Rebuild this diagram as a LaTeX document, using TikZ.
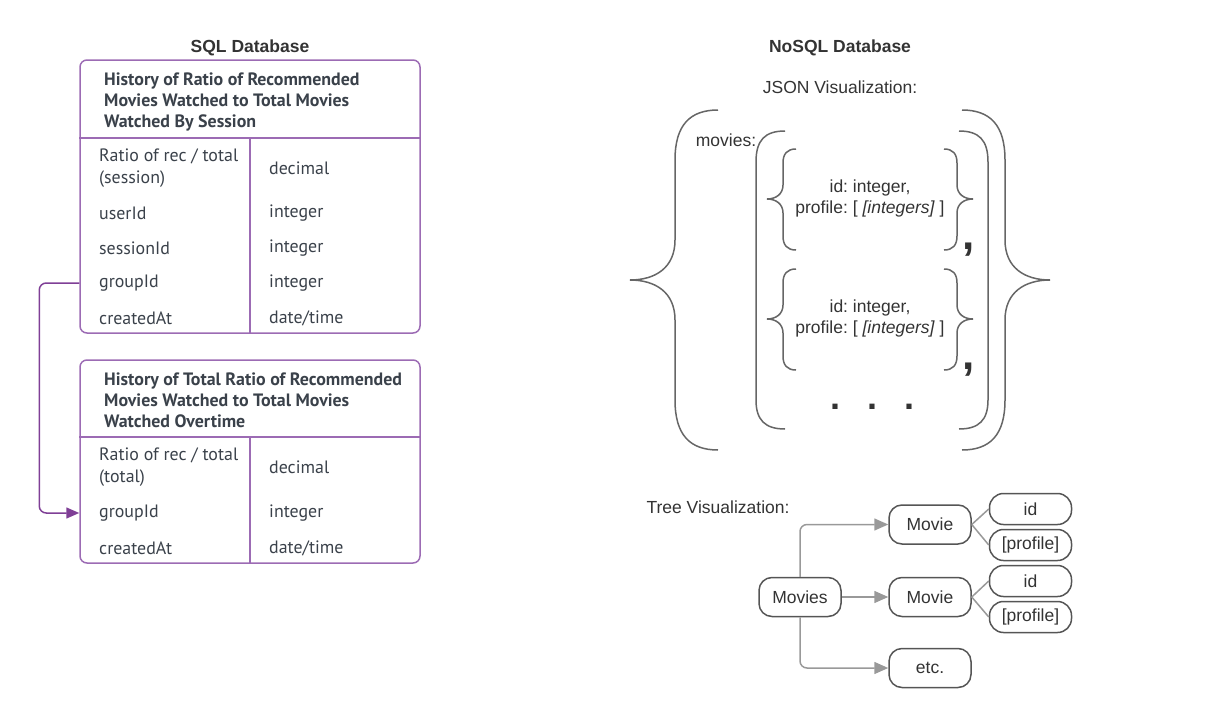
\documentclass[tikz,border=0pt]{standalone}
\usepackage{fontspec}
\setmainfont{Liberation Sans}
\newfontfamily\ptsans{PT Sans}
\usepackage{xcolor}
\usetikzlibrary{arrows.meta,positioning,calc}
\definecolor{tabline}{HTML}{9C6BB4}
\definecolor{linkline}{HTML}{7F3F96}
\definecolor{tabtext}{HTML}{3A414A}
\definecolor{bracegray}{HTML}{666666}
\definecolor{treeline}{HTML}{999999}
\definecolor{treebox}{HTML}{555555}
\definecolor{plaintext}{HTML}{333333}
\frenchspacing

\begin{document}
\begin{tikzpicture}[x=1pt,y=-1pt,font=\fontsize{17.5}{21}\selectfont,text=plaintext,
    tabbox/.style={draw=tabline,line width=1.5pt,rounded corners=7pt,inner sep=0pt},
    tabrule/.style={draw=tabline,line width=1.5pt},
    tabhead/.style={font=\ptsans\bfseries\fontsize{17.9}{21}\selectfont,text=tabtext,
      anchor=north west,align=left,inner sep=0pt},
    tabcell/.style={font=\ptsans\fontsize{17.9}{21.5}\selectfont,text=tabtext,
      anchor=west,align=left,inner sep=0pt},
    brace/.style={draw=bracegray,line width=1.5pt},
    tnode/.style={draw=treebox,line width=1.5pt,rounded corners=13pt,
      minimum width=82pt,minimum height=39pt,inner sep=0pt},
    leaf/.style={tnode,rounded corners=14pt,minimum height=31pt},
    tarrow/.style={draw=treeline,line width=1.5pt,rounded corners=7pt,
      -{Triangle[length=14pt,width=12pt]}},
    tline/.style={draw=treeline,line width=1.5pt}]
  \useasboundingbox (0,0) rectangle (1216,720);

  \node[font=\bfseries\fontsize{17.5}{21}\selectfont] (sqltitle) at (250,48) {SQL Database};
  \node[tabbox,minimum width=340pt,minimum height=273pt] (t1) at (250,196.5) {};
  \draw[tabrule] (t1.west |- 0,138) -- (t1.east |- 0,138);
  \draw[tabrule] (250,138) -- (250,333);
  \node[tabhead] (h1) at (104,72.5) {History of Ratio of Recommended\\Movies Watched to Total Movies\\Watched By Session};
  \foreach \n/\y/\a/\b in {r1/168/{Ratio of rec / total\\(session)}/decimal,
      u1/213/userId/integer,s1/248/sessionId/integer,g1/283/groupId/integer,
      c1/318/createdAt/date\slash time}
    {\node[tabcell] (\n) at (99,\y) {\a};
     \node[tabcell] (\n t) at (269,\y) {\b};}

  \node[tabbox,minimum width=340pt,minimum height=203pt] (t2) at (250,461.5) {};
  \draw[tabrule] (t2.west |- 0,437) -- (t2.east |- 0,437);
  \draw[tabrule] (250,437) -- (250,563);
  \node[tabhead] (h2) at (104,372.5) {History of Total Ratio of Recommended\\Movies Watched to Total Movies\\Watched Overtime};
  \foreach \n/\y/\a/\b in {r2/467/{Ratio of rec / total\\(total)}/decimal,
      g2/513/groupId/integer,c2/548/createdAt/date\slash time}
    {\node[tabcell] (\n) at (99,\y) {\a};
     \node[tabcell] (\n t) at (269,\y) {\b};}

  \draw[linkline,line width=1.5pt,rounded corners=7pt,-{Triangle[length=13pt,width=11pt]}]
    (t1.west |- g1) -- ++(-40,0) |- (t2.west |- g2);

  \node[font=\bfseries\fontsize{17.5}{21}\selectfont] (nosqltitle) at (840,48) {NoSQL Database};
  \node (jsonlabel) at (840,87) {JSON Visualization:};
  \node (movieskey) at (726,140) {movies:};

  \foreach \s in {1,-1}
    {\begin{scope}[shift={(840,0)},xscale=\s]
       \draw[brace] (-122,110) .. controls (-150,110) and (-165,125) .. (-165,160)
         -- (-165,240) .. controls (-165,268) and (-185,280) .. (-210,280)
         .. controls (-185,280) and (-165,292) .. (-165,320)
         -- (-165,400) .. controls (-165,435) and (-150,450) .. (-122,450);
     \end{scope}
     \begin{scope}[shift={(872,0)},xscale=\s]
       \draw[brace] (-87,131) .. controls (-107,131) and (-116,140) .. (-116,162)
         -- (-116,400) .. controls (-116,420) and (-107,429) .. (-87,429);
     \end{scope}
     \foreach \y in {199,319}
       {\begin{scope}[shift={(870,\y)},xscale=\s]
          \draw[brace] (-74,-50) .. controls (-83,-50) and (-87,-45) .. (-87,-36)
            -- (-87,-14) .. controls (-87,-5) and (-94,0) .. (-103,0)
            .. controls (-94,0) and (-87,5) .. (-87,14)
            -- (-87,37) .. controls (-87,46) and (-83,51) .. (-74,51);
        \end{scope}}}

  \node[align=center] (item1) at (870,198) {id: integer,\\profile: [ \textit{[integers]} ]};
  \node[align=center] (item2) at (870,318) {id: integer,\\profile: [ \textit{[integers]} ]};
  \node[font=\bfseries\fontsize{44}{44}\selectfont,anchor=base,inner sep=0pt] (comma1) at (969,249) {,};
  \node[font=\bfseries\fontsize{44}{44}\selectfont,anchor=base,inner sep=0pt] (comma2) at (969,369) {,};
  \node[font=\bfseries\fontsize{36}{36}\selectfont,anchor=base,inner sep=0pt] (more) at (872,409) {.\hspace{27pt}.\hspace{27pt}.};

  \node[anchor=west] (treelabel) at (643,507) {Tree Visualization:};
  \node[tnode] (movies) at (800,597) {Movies};
  \node[tnode] (movie1) at (930,524.5) {Movie};
  \node[tnode] (movie2) at (930,597) {Movie};
  \node[tnode] (etc) at (930,668) {etc.};
  \node[leaf] (id1) at (1030.5,509) {id};
  \node[leaf] (prof1) at (1030.5,545) {[profile]};
  \node[leaf] (id2) at (1030.5,581) {id};
  \node[leaf] (prof2) at (1030.5,617) {[profile]};

  \draw[tarrow] (movies.north) |- (movie1.west);
  \draw[tarrow] (movies) -- (movie2);
  \draw[tarrow] (movies.south) |- (etc.west);
  \draw[tline] (movie1.east) -- (id1.west);
  \draw[tline] (movie1.east) -- (prof1.west);
  \draw[tline] (movie2.east) -- (id2.west);
  \draw[tline] (movie2.east) -- (prof2.west);
\end{tikzpicture}
\end{document}
